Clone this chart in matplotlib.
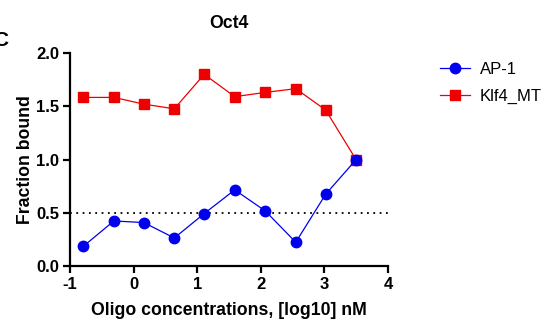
import matplotlib
matplotlib.use("Agg")
import matplotlib.pyplot as plt
import numpy as np

plt.rcParams['font.family'] = ['Liberation Sans', 'DejaVu Sans']
plt.rcParams['axes.unicode_minus'] = False

log_conc = [-0.79, -0.31, 0.16, 0.64, 1.11, 1.59, 2.07, 2.55, 3.02, 3.50]
ap1 = [0.185, 0.423, 0.408, 0.263, 0.492, 0.715, 0.517, 0.223, 0.674, 1.0]
klf4_mt = [1.583, 1.583, 1.52, 1.476, 1.80, 1.59, 1.63, 1.665, 1.464, 0.997]
threshold = 0.5

fig = plt.figure(figsize=(5.46, 3.29), dpi=100)
ax = fig.add_axes([70/546, 1-266/329, 318/546, 213/329])

ax.axhline(threshold, color='black', linestyle=(0, (1, 2.5)), linewidth=1.3, zorder=1)
ax.plot(log_conc, ap1, color='#0000EE', marker='o', markersize=7.5, linewidth=0.9, label='AP-1', zorder=3)
ax.plot(log_conc, klf4_mt, color='#EE0000', marker='s', markersize=7, linewidth=0.9, label='Klf4_MT', zorder=2)

ax.set_xlim(-1, 4)
ax.set_ylim(0, 2.0)
ax.set_xticks([-1, 0, 1, 2, 3, 4])
ax.set_yticks([0.0, 0.5, 1.0, 1.5, 2.0])
ax.set_yticklabels(['0.0', '0.5', '1.0', '1.5', '2.0'])
for s in ['top', 'right']:
    ax.spines[s].set_visible(False)
for s in ['left', 'bottom']:
    ax.spines[s].set_linewidth(1.6)
ax.tick_params(direction='out', length=5, width=1.6, labelsize=12, pad=3)
for lab in ax.get_xticklabels() + ax.get_yticklabels():
    lab.set_fontweight('bold')

ax.set_xlabel('Oligo concentrations, [log10] nM', fontsize=12.7, fontweight='bold', labelpad=7)
ax.set_ylabel('Fraction bound', fontsize=12.7, fontweight='bold', labelpad=1)
ax.set_title('Oct4', fontsize=12.7, fontweight='bold', pad=18)

fig.legend(loc='upper left', bbox_to_anchor=(425/546, 1-47/329), frameon=False, fontsize=12,
           handlelength=1.8, handletextpad=0.6, labelspacing=0.7)

fig.text(-0.012, 1-40/329, 'C', fontsize=15, fontweight='bold', va='center')

fig.savefig('out.png', dpi=100)
